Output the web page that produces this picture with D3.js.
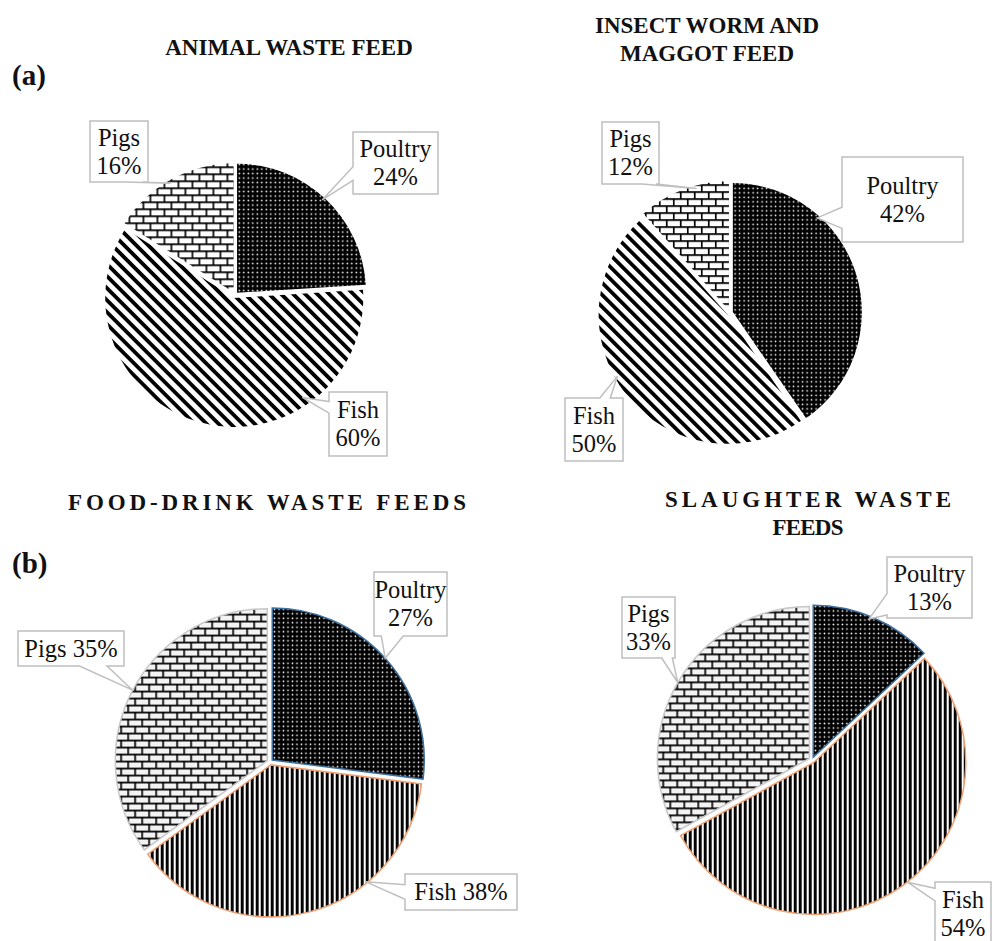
<!DOCTYPE html>
<html>
<head>
<meta charset="utf-8">
<script src="https://cdn.jsdelivr.net/npm/d3@7"></script>
<style>
  body { margin: 0; background: #fff; }
  text { font-family: "Liberation Serif", "Times New Roman", serif; }
  .title { font-weight: bold; fill: #111; }
  .lbl { font-size: 24.5px; fill: #111; }
</style>
</head>
<body>
<svg id="chart" width="992" height="941"></svg>
<script>
// data
const categories = ["Poultry", "Fish", "Pigs"];
const animalWaste = [24, 60, 16];
const insectFeed = [42, 50, 12];
const foodDrink = [27, 38, 35];
const slaughterWaste = [13, 54, 33];

const titleAnimal = ["ANIMAL WASTE FEED"];
const titleInsect = ["INSECT WORM AND", "MAGGOT FEED"];
const titleFood = ["FOOD-DRINK WASTE FEEDS"];
const titleSlaughter = ["SLAUGHTER WASTE", "FEEDS"];

// layout for each pie (positions only)
const pies = [
  { values: animalWaste, title: titleAnimal, cx: 235, cy: 295, r: 129, bottom: false,
    tx: 289, ty: [55], tw: null, spacing: 0, fs: 23,
    labels: [
      { box: [353, 132, 85, 62], side: "left", f: [0.56, 0.78], ang: 42.5, rf: 1.0, lines: 2 },
      { box: [329, 392, 58, 64], side: "left", f: [0.15, 0.33], ang: 146.7, rf: 0.95, lines: 2 },
      { box: [90, 121, 58, 61], side: "bottom", f: [0.6, 0.9], ang: 330, rf: 1.0, lines: 2 }
    ] },
  { values: insectFeed, title: titleInsect, cx: 730, cy: 313, r: 129, bottom: false,
    tx: 707, ty: [33, 61], tw: null, spacing: 0, fs: 23,
    labels: [
      { box: [842, 157, 121, 85], side: "left", f: [0.59, 0.84], ang: 42.5, rf: 1.0, lines: 2 },
      { box: [565, 398, 58, 63], side: "top", f: [0.6, 0.78], ang: 240.7, rf: 1.0, lines: 2 },
      { box: [602, 122, 57, 62], side: "bottom", f: [0.7, 0.95], ang: 345, rf: 1.0, lines: 2 }
    ] },
  { values: foodDrink, title: titleFood, cx: 270, cy: 762, r: 152, bottom: true,
    tx: 269, ty: [510], tw: [402], spacing: 4, fs: 23,
    labels: [
      { box: [374, 572, 73, 64], side: "bottom", f: [0.1, 0.4], ang: 48, rf: 1.02, lines: 2 },
      { box: [405, 874, 112, 36], side: "left", f: [0.3, 0.7], ang: 141.3, rf: 1.01, lines: 1 },
      { box: [18, 631, 106, 35], side: "bottom", f: [0.58, 0.84], ang: 297.6, rf: 1.02, lines: 1 }
    ] },
  { values: slaughterWaste, title: titleSlaughter, cx: 812, cy: 760, r: 152, bottom: true,
    tx: 810, ty: [507, 535], tw: [290, 75], spacing: 4, fs: 23,
    labels: [
      { box: [887, 557, 85, 61], side: "left", f: [0.6, 0.95], ang: 22, rf: 1.0, lines: 2 },
      { box: [935, 882, 56, 63], side: "left", f: [0.1, 0.3], ang: 142, rf: 1.02, lines: 2 },
      { box: [622, 597, 53, 61], side: "bottom", f: [0.75, 0.95], ang: 300, rf: 1.02, lines: 2 }
    ] }
];

const svg = d3.select("#chart");
const defs = svg.append("defs");

// patterns
const dots = defs.append("pattern").attr("id", "dots")
  .attr("patternUnits", "userSpaceOnUse").attr("width", 4.5).attr("height", 4.5);
dots.append("rect").attr("width", 4.5).attr("height", 4.5).attr("fill", "#000");
dots.append("circle").attr("cx", 2.25).attr("cy", 2.25).attr("r", 0.85).attr("fill", "#fff");

const diag = defs.append("pattern").attr("id", "diag")
  .attr("patternUnits", "userSpaceOnUse").attr("width", 8.5).attr("height", 8.5)
  .attr("patternTransform", "rotate(-45)");
diag.append("rect").attr("width", 8.5).attr("height", 8.5).attr("fill", "#fff");
diag.append("rect").attr("width", 3.8).attr("height", 8.5).attr("fill", "#000");

const vert = defs.append("pattern").attr("id", "vert")
  .attr("patternUnits", "userSpaceOnUse").attr("width", 5).attr("height", 5);
vert.append("rect").attr("width", 5).attr("height", 5).attr("fill", "#fff");
vert.append("rect").attr("width", 2.9).attr("height", 5).attr("fill", "#000");

function brick(id, bg) {
  const p = defs.append("pattern").attr("id", id)
    .attr("patternUnits", "userSpaceOnUse").attr("width", 14).attr("height", 14);
  p.append("rect").attr("width", 14).attr("height", 14).attr("fill", bg);
  p.append("path")
    .attr("d", "M0,0.8H14M0,7.8H14M0.8,0V7M7.8,7V14")
    .attr("stroke", "#000").attr("stroke-width", 1.7).attr("fill", "none");
}
brick("brick", "#fff");
brick("brick2", "#f3f3f3");

const pie = d3.pie().sort(null).value(d => d);

function callout(b, side, f, tip) {
  const [x, y, w, h] = b;
  const x1 = x + w, y1 = y + h;
  let pts;
  if (side === "left") {
    const a = y + f[0] * h, c = y + f[1] * h;
    pts = [[x, y], [x1, y], [x1, y1], [x, y1], [x, c], tip, [x, a]];
  } else if (side === "right") {
    const a = y + f[0] * h, c = y + f[1] * h;
    pts = [[x, y], [x1, y], [x1, a], tip, [x1, c], [x1, y1], [x, y1]];
  } else if (side === "top") {
    const a = x + f[0] * w, c = x + f[1] * w;
    pts = [[x, y], [a, y], tip, [c, y], [x1, y], [x1, y1], [x, y1]];
  } else {
    const a = x + f[0] * w, c = x + f[1] * w;
    pts = [[x, y], [x1, y], [x1, y1], [c, y1], tip, [a, y1], [x, y1]];
  }
  return d3.line()(pts) + "Z";
}

pies.forEach(p => {
  const arcs = pie(p.values);
  const arc = d3.arc().innerRadius(0).outerRadius(p.r);
  const g = svg.append("g").attr("transform", `translate(${p.cx},${p.cy})`);

  const fills = p.bottom ? ["url(#dots)", "url(#vert)", "url(#brick2)"]
                         : ["url(#dots)", "url(#diag)", "url(#brick)"];
  const strokes = p.bottom ? ["#3d6f9e", "#f0a070", "#c8c8c8"] : ["none", "none", "none"];

  g.selectAll("path.slice")
    .data(arcs)
    .join("path")
    .attr("class", "slice")
    .attr("transform", d => {
      const m = (d.startAngle + d.endAngle) / 2;
      return `translate(${3 * Math.sin(m)},${-3 * Math.cos(m)})`;
    })
    .attr("d", arc)
    .attr("fill", (d, i) => fills[i])
    .attr("stroke", (d, i) => strokes[i])
    .attr("stroke-width", 1.5);

  // titles
  p.title.forEach((t, i) => {
    const tt = svg.append("text")
      .attr("class", "title")
      .attr("x", p.tx)
      .attr("y", p.ty[i])
      .attr("text-anchor", "middle")
      .attr("font-size", p.fs)
      .attr("letter-spacing", p.spacing)
      .text(t);
    if (p.tw) tt.attr("textLength", p.tw[i]).attr("lengthAdjust", "spacing");
  });

  // callouts
  p.labels.forEach((l, i) => {
    const a = l.ang * Math.PI / 180;
    const tip = [p.cx + l.rf * p.r * Math.sin(a), p.cy - l.rf * p.r * Math.cos(a)];
    svg.append("path")
      .attr("d", callout(l.box, l.side, l.f, tip))
      .attr("fill", "#fff")
      .attr("stroke", "#bfbfbf")
      .attr("stroke-width", 1.5);
    const [bx, by, bw, bh] = l.box;
    const txt = svg.append("text")
      .attr("class", "lbl")
      .attr("text-anchor", "middle")
      .attr("x", bx + bw / 2);
    const pct = p.values[i] + "%";
    if (l.lines === 2) {
      txt.append("tspan").attr("x", bx + bw / 2).attr("y", by + bh / 2 - 6).text(categories[i]);
      txt.append("tspan").attr("x", bx + bw / 2).attr("y", by + bh / 2 + 22).text(pct);
    } else {
      txt.attr("y", by + bh / 2 + 8).text(categories[i] + " " + pct);
    }
  });
});

svg.append("text").attr("class", "title").attr("x", 12).attr("y", 85)
  .attr("font-size", 29).text("(a)");
svg.append("text").attr("class", "title").attr("x", 12).attr("y", 573)
  .attr("font-size", 29).text("(b)");
</script>
</body>
</html>
